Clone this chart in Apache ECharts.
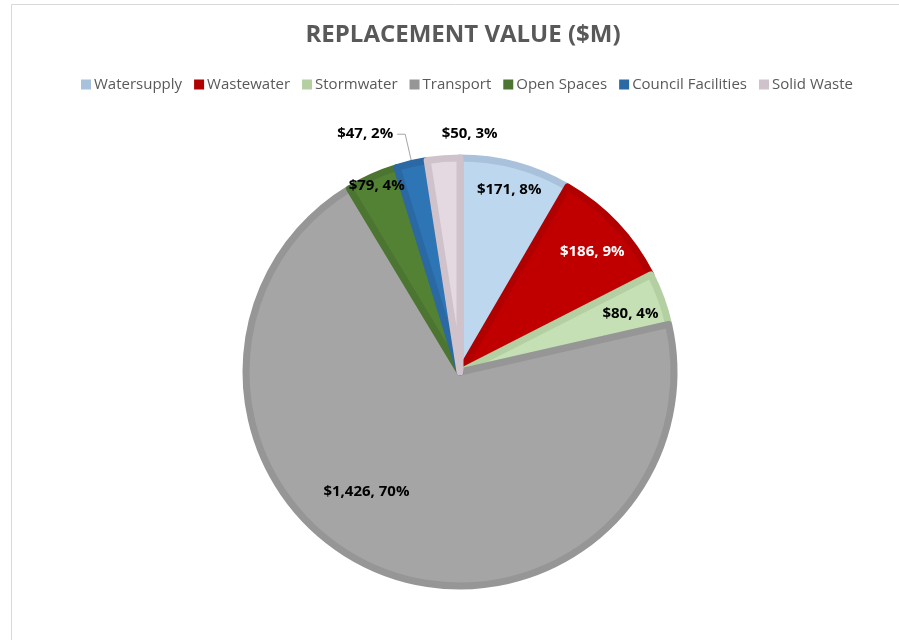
<!DOCTYPE html>
<html>
<head>
<meta charset="utf-8">
<script src="https://cdn.jsdelivr.net/npm/echarts@6/dist/echarts.min.js"></script>
<style>
html,body{margin:0;padding:0;background:#fff;}
#chart{width:899px;height:640px;}
</style>
</head>
<body>
<div id="chart"></div>
<script>
// ---- Data ----
const categories = ['Watersupply', 'Wastewater', 'Stormwater', 'Transport', 'Open Spaces', 'Council Facilities', 'Solid Waste'];
const values = [171, 186, 80, 1426, 79, 47, 50];
const percentLabels = [8, 9, 4, 70, 4, 2, 3];
const titleText = 'REPLACEMENT VALUE ($M)';

// ---- Styles ----
const fillColors = ['#bdd7ee', '#c00000', '#c5e0b4', '#a5a5a5', '#548235', '#2e75b6', '#e4d9e1'];
const borderColors = ['#a9c1db', '#b00000', '#b4d0a3', '#969696', '#4b7530', '#2a69a3', '#cfc2cb'];
const labelColors = ['#000', '#fff', '#000', '#000', '#000', '#000', '#000'];
// label placement: fraction of outer radius, angle shift (deg), alignment
const labelPlacement = [
  {r: 0.87, da: 0},
  {r: 0.825, da: 1},
  {r: 0.83, da: 1},
  {r: 0.70, da: 15},
  {r: 0.94, da: 0},
  null,
  {r: 1.10, da: 0, align: 'left'}
];

const CX = 460, CY = 372, R = 214, RL = 217;
const chart = echarts.init(document.getElementById('chart'));
const total = values.reduce((a, b) => a + b, 0);
const cum = [];
values.reduce((acc, v, i) => { cum[i] = acc + v / 2; return acc + v; }, 0);

function fmt(i) {
  return '$' + values[i].toLocaleString('en-US') + ', ' + percentLabels[i] + '%';
}

const data = categories.map((n, i) => {
  const item = {
    name: n,
    value: values[i],
    itemStyle: {color: fillColors[i], borderColor: borderColors[i], borderWidth: 7},
    label: {color: labelColors[i]}
  };
  if (!labelPlacement[i]) {
    item.label = {position: 'outside', color: labelColors[i], distanceToLabelLine: 4};
    item.labelLine = {show: true, length: 30, length2: 8, lineStyle: {color: '#a6a6a6', width: 1}};
  }
  return item;
});

chart.setOption({
  backgroundColor: '#fff',
  animation: false,
  graphic: [{
    type: 'rect', shape: {x: 11.5, y: 4.5, width: 960, height: 700},
    style: {fill: 'none', stroke: '#d9d9d9', lineWidth: 1}, silent: true, z: -1
  }],
  title: {
    text: titleText, left: 458, textAlign: 'center', top: 18,
    textStyle: {fontFamily: 'Open Sans', fontSize: 24, fontWeight: 'bold', color: '#595959'}
  },
  legend: {
    top: 72, left: 76,
    icon: 'rect', itemWidth: 10, itemHeight: 10, itemGap: 12,
    textStyle: {fontFamily: 'Open Sans', fontSize: 15, color: '#595959', padding: [0, 0, 0, -2]},
    data: categories.map((n, i) => ({name: n, itemStyle: {color: borderColors[i], borderWidth: 0}}))
  },
  series: [{
    type: 'pie',
    center: [CX, CY],
    radius: [0, R],
    startAngle: 90,
    clockwise: true,
    avoidLabelOverlap: false,
    label: {
      show: true, position: 'inside',
      fontFamily: 'Open Sans', fontSize: 15, fontWeight: 'bold',
      formatter: p => fmt(p.dataIndex)
    },
    labelLine: {show: false},
    labelLayout: function (p) {
      const pl = labelPlacement[p.dataIndex];
      if (!pl) return {};
      const a = (cum[p.dataIndex] / total) * 2 * Math.PI + pl.da * Math.PI / 180;
      const r = RL * pl.r;
      let x = CX + r * Math.sin(a);
      const y = CY - r * Math.cos(a);
      const res = {x: x, y: y, verticalAlign: 'middle', align: pl.align || 'center'};
      return res;
    },
    emphasis: {disabled: true},
    data: data
  }]
});
</script>
</body>
</html>
